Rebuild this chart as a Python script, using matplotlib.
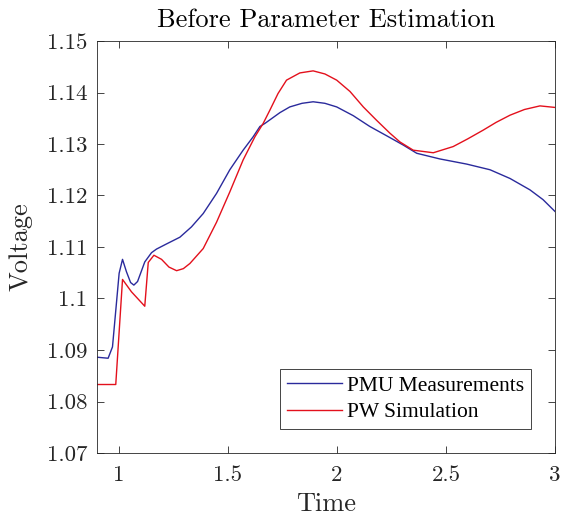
import matplotlib
matplotlib.use("Agg")
import matplotlib.pyplot as plt

pmu_t = [0.90, 0.951, 0.971, 1.0015, 1.017, 1.035, 1.054, 1.069, 1.086, 1.119, 1.150, 1.173,
         1.219, 1.280, 1.333, 1.387, 1.448, 1.509, 1.570, 1.616, 1.647, 1.670, 1.693, 1.739,
         1.784, 1.840, 1.891, 1.945, 1.999, 2.075, 2.151, 2.228, 2.304, 2.366, 2.472, 2.595,
         2.702, 2.794, 2.885, 2.945, 3.0]
pmu_v = [1.0886, 1.0884, 1.0906, 1.1049, 1.1076, 1.1052, 1.1031, 1.1026, 1.1033, 1.1071, 1.1089,
         1.1096, 1.1106, 1.1119, 1.1139, 1.1165, 1.1204, 1.1250, 1.1288, 1.1314, 1.1334, 1.1340,
         1.1347, 1.1361, 1.1372, 1.1379, 1.1382, 1.1379, 1.1372, 1.1355, 1.1334, 1.1316, 1.1298,
         1.1282, 1.1271, 1.1261, 1.1250, 1.1233, 1.1211, 1.1192, 1.1169]

pw_t = [0.90, 0.986, 1.017, 1.058, 1.119, 1.135, 1.161, 1.196, 1.230, 1.265, 1.296, 1.326, 1.387,
        1.448, 1.509, 1.570, 1.624, 1.662, 1.693, 1.730, 1.769, 1.830, 1.891, 1.945, 1.999,
        2.060, 2.121, 2.182, 2.243, 2.289, 2.350, 2.442, 2.533, 2.600, 2.671, 2.730, 2.794,
        2.860, 2.931, 3.0]
pw_v = [1.0833, 1.0833, 1.1037, 1.1013, 1.0985, 1.1070, 1.1084, 1.1076, 1.1061, 1.1054, 1.1058,
        1.1068, 1.1097, 1.1148, 1.1207, 1.1269, 1.1314, 1.1340, 1.1366, 1.1398, 1.1424, 1.1438,
        1.1442, 1.1436, 1.1424, 1.1402, 1.1372, 1.1346, 1.1321, 1.1304, 1.1288, 1.1283, 1.1295,
        1.1310, 1.1327, 1.1342, 1.1356, 1.1367, 1.1374, 1.1371]

xticks = [1, 1.5, 2, 2.5, 3]
xticklabels = ["1", "1.5", "2", "2.5", "3"]
yticks = [1.07, 1.08, 1.09, 1.10, 1.11, 1.12, 1.13, 1.14, 1.15]
yticklabels = ["1.07", "1.08", "1.09", "1.1", "1.11", "1.12", "1.13", "1.14", "1.15"]

plt.rcParams['font.family'] = ['cmr10', 'DejaVu Serif']
plt.rcParams['axes.formatter.use_mathtext'] = True

fig = plt.figure(figsize=(5.61, 5.23), dpi=100)
ax = fig.add_axes([97/561, 1-453/523, (555-97)/561, (453-41)/523])

ax.plot(pmu_t, pmu_v, color="#2a2a9c", lw=1.0, label="PMU Measurements")
ax.plot(pw_t, pw_v, color="#e3101c", lw=1.0, label="PW Simulation")

ax.set_xlim(0.9, 3)
ax.set_ylim(1.07, 1.15)
ax.set_xticks(xticks)
ax.set_xticklabels(xticklabels)
ax.set_yticks(yticks)
ax.set_yticklabels(yticklabels)
ax.tick_params(direction="in", top=True, right=True, labelsize=16.5, colors="#262626",
               length=5, width=0.6)
ax.tick_params(axis="x", pad=9)
ax.tick_params(axis="y", pad=7)
for s in ax.spines.values():
    s.set_color("#262626")
    s.set_linewidth(0.6)
ax.set_xlabel("Time", fontsize=19, color="#262626", labelpad=5)
ax.set_ylabel("Voltage", fontsize=19, color="#262626", labelpad=10)
ax.set_title("Before Parameter Estimation", fontsize=19, color="#000000", pad=10)

leg = ax.legend(loc="lower right", prop={'family': ['Liberation Serif'], 'size': 15.5},
                fancybox=False, framealpha=1, edgecolor="#262626", borderaxespad=1.1,
                handlelength=2.55, handletextpad=0.25, borderpad=0.33, labelspacing=0.3)
leg.get_frame().set_linewidth(0.6)

fig.savefig("out.png", dpi=100)
